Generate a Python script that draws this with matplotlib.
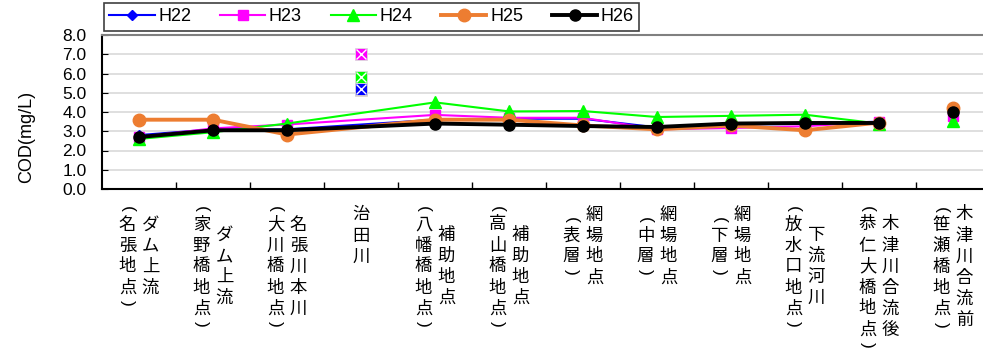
import numpy as np
import matplotlib
matplotlib.use('Agg')
import matplotlib.pyplot as plt

# data
names = ['ダム上流', 'ダム上流', '名張川本川', '治田川', '補助地点', '補助地点',
         '網場地点', '網場地点', '網場地点', '下流河川', '木津川合流後', '木津川合流前']
places = ['名張地点', '家野橋地点', '大川橋地点', '', '八幡橋地点', '高山橋地点',
          '表層', '中層', '下層', '放水口地点', '恭仁大橋地点', '笹瀬橋地点']
years = ['H22', 'H23', 'H24', 'H25', 'H26']
h22 = [2.8, 3.1, 3.1, 5.2, 3.6, 3.65, 3.65, 3.2, 3.35, 3.38, 3.5, 3.9]
h23 = [2.7, 3.15, 3.35, 7.0, 3.85, 3.7, 3.7, 3.1, 3.17, 3.26, 3.5, 3.8]
h24 = [2.6, 2.95, 3.4, 5.8, 4.5, 4.03, 4.05, 3.74, 3.8, 3.86, 3.4, 3.55]
h25 = [3.6, 3.6, 2.83, 5.15, 3.6, 3.6, 3.3, 3.1, 3.3, 3.05, 3.45, 4.2]
h26 = [2.7, 3.05, 3.05, np.nan, 3.4, 3.34, 3.27, 3.22, 3.4, 3.43, 3.43, 4.0]
yticks = [0, 1, 2, 3, 4, 5, 6, 7, 8]

# points drawn on their own (not joined by the lines)
lone = [3, 11]

plt.rcParams['font.family'] = ['Liberation Sans', 'DejaVu Sans']
JP = ['Noto Sans CJK JP', 'DejaVu Sans']

styles = [
    dict(color='#0000ff', marker='D', ms=5, lw=1.5),
    dict(color='#ff00ff', marker='s', ms=7, lw=1.5),
    dict(color='#00ff00', marker='^', ms=8, lw=1.5),
    dict(color='#ed7d31', marker='o', ms=9, lw=2.8),
    dict(color='#000000', marker='o', ms=8, lw=2.8),
]

fig = plt.figure(figsize=(9.83, 3.49), dpi=100)
ax = fig.add_axes([102/983, 1-189/349, 888/983, 154/349])

x = np.arange(len(names))
joined = [i for i in x if i not in lone]

handles = []
for k, (vals, name, st) in enumerate(zip([h22, h23, h24, h25, h26], years, styles)):
    v = np.array(vals, dtype=float)
    ln, = ax.plot(joined, v[joined], color=st['color'], lw=st['lw'],
                  marker=st['marker'], ms=st['ms'], mec=st['color'], label=name)
    handles.append(ln)
    # 治田川: boxed markers with white cross
    if not np.isnan(v[3]):
        ax.plot([3], [v[3]], ls='none', marker='s', ms=9, color=st['color'],
                mec='#dddddd', mew=0.6, zorder=10 - k)
        ax.plot([3], [v[3]], ls='none', marker='x', ms=7, color='white', mew=1,
                zorder=10 - k)
    ax.plot([11], [v[11]], ls='none', marker=st['marker'], ms=st['ms'],
            color=st['color'])

ax.set_xlim(-0.5, len(names) - 0.5)
ax.set_ylim(0, 8)
ax.set_yticks(yticks)
ax.set_yticklabels([f'{t:.1f}' for t in yticks], fontsize=12.5)
ax.set_xticks(x)
ax.set_xticklabels([])
ax.set_xticks(np.arange(0.5, len(names) - 1, 1), minor=True)
ax.tick_params(axis='x', which='major', length=0)
ax.tick_params(axis='x', which='minor', direction='in', length=5, width=1)
ax.tick_params(axis='y', direction='in', length=4, pad=11)
ax.grid(axis='y', color='#d9d9d9', lw=1.2)
ax.set_axisbelow(True)
for s in ['left', 'bottom']:
    ax.spines[s].set_linewidth(1.5)
ax.spines['top'].set_color('#808080')
ax.spines['top'].set_linewidth(1.5)
ax.spines['right'].set_visible(False)


# vertical Japanese category labels: one glyph per row, two columns
pitch = 21
pextra = 10
top = 15


def col_height(chars, paren):
    return pitch * len(chars) + (2 * pextra if paren else 0)


def put(s, i, dx, dy, rot=0, fam=JP):
    ax.annotate(s, xy=(i, 0), xycoords=('data', 'axes fraction'),
                xytext=(dx, -dy), textcoords='offset pixels',
                ha='center', va='center', fontsize=12.5, rotation=rot, family=fam)


for i, (nm, pl) in enumerate(zip(names, places)):
    cols = [(nm, False)] if not pl else [(nm, False), (pl, True)]
    hmax = max(col_height(c, p) for c, p in cols)
    offs = [0] if len(cols) == 1 else [11.5, -11.5]
    for (c, paren), dx in zip(cols, offs):
        y0 = top + (hmax - col_height(c, paren)) / 2
        if paren:
            put('(', i, dx, y0 + pextra / 2, rot=-90, fam=['Liberation Sans'])
            y0 += pextra
        for j, ch in enumerate(c):
            put(ch, i, dx, y0 + pitch * (j + 0.5))
        if paren:
            put(')', i, dx, y0 + pitch * len(c) + pextra / 2, rot=-90,
                fam=['Liberation Sans'])

fig.text(27/983, 1-137/349, 'COD(mg/L)', rotation=90, ha='center', va='center',
         fontsize=13)

leg = fig.legend(handles=handles, loc='upper left', bbox_to_anchor=(104/983, 1-3/349),
                 ncol=5, fontsize=13, frameon=True, fancybox=False, framealpha=1,
                 edgecolor='#404040', handlelength=2.5, handletextpad=0.2,
                 columnspacing=1.6, borderpad=0.3, borderaxespad=0)
leg.get_frame().set_linewidth(1.2)

fig.savefig('out.png', dpi=100)
